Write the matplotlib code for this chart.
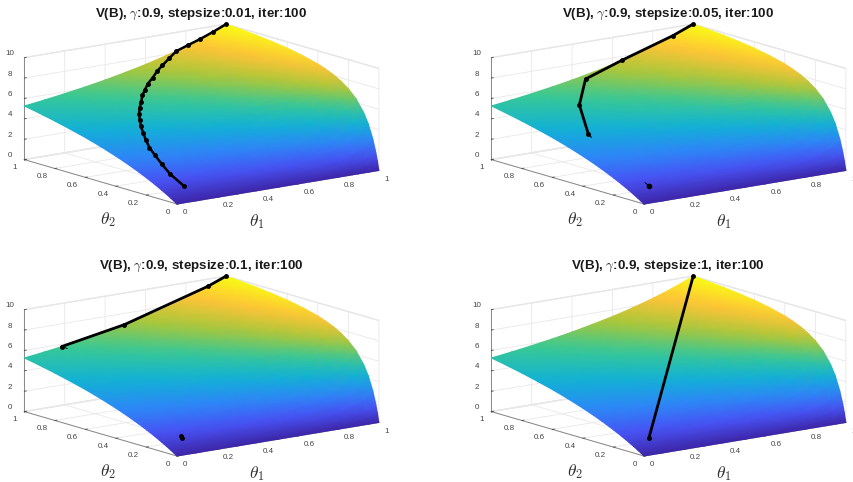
import matplotlib
matplotlib.use("Agg")
import matplotlib.pyplot as plt
import numpy as np
from matplotlib.colors import LinearSegmentedColormap
from mpl_toolkits.mplot3d import proj3d

plt.rcParams["font.family"] = ["Liberation Sans", "DejaVu Sans"]
plt.rcParams["mathtext.fontset"] = "cm"

# surface heights
theta1_grid = [0, 0.1, 0.2, 0.3, 0.4, 0.5, 0.6, 0.7, 0.8, 0.85, 0.9, 0.95, 1]
theta2_grid = [0, 0.01, 0.02, 0.04, 0.07, 0.1, 0.15, 0.2, 0.25, 0.3, 0.35, 0.4, 0.5, 0.6, 0.7, 0.8, 0.9, 0.95, 1]
surface_z = [
    [0, 0, 0, 0, 0, 0, 0, 0, 0, 0, 0, 0, 0],
    [0.099, 0.109, 0.121, 0.135, 0.154, 0.179, 0.213, 0.264, 0.346, 0.41, 0.503, 0.649, 0.917],
    [0.196, 0.216, 0.239, 0.267, 0.304, 0.352, 0.418, 0.515, 0.671, 0.791, 0.962, 1.227, 1.695],
    [0.386, 0.423, 0.467, 0.522, 0.592, 0.683, 0.806, 0.985, 1.266, 1.476, 1.77, 2.21, 2.94],
    [0.659, 0.719, 0.793, 0.883, 0.996, 1.142, 1.338, 1.617, 2.04, 2.35, 2.77, 3.37, 4.29],
    [0.917, 1.0, 1.099, 1.22, 1.37, 1.563, 1.818, 2.17, 2.7, 3.08, 3.57, 4.26, 5.26],
    [1.322, 1.435, 1.571, 1.734, 1.935, 2.19, 2.52, 2.97, 3.61, 4.05, 4.62, 5.36, 6.38],
    [1.695, 1.835, 2.0, 2.2, 2.44, 2.74, 3.13, 3.64, 4.35, 4.82, 5.41, 6.15, 7.14],
    [2.04, 2.2, 2.39, 2.62, 2.89, 3.23, 3.65, 4.2, 4.95, 5.43, 6.02, 6.76, 7.69],
    [2.36, 2.54, 2.75, 3.0, 3.3, 3.66, 4.11, 4.69, 5.45, 5.94, 6.52, 7.23, 8.11],
    [2.66, 2.86, 3.08, 3.35, 3.66, 4.05, 4.52, 5.11, 5.88, 6.36, 6.93, 7.61, 8.43],
    [2.94, 3.15, 3.39, 3.67, 4.0, 4.4, 4.88, 5.48, 6.25, 6.72, 7.27, 7.92, 8.7],
    [3.45, 3.68, 3.94, 4.24, 4.59, 5.0, 5.49, 6.1, 6.85, 7.3, 7.81, 8.4, 9.09],
    [3.9, 4.14, 4.41, 4.72, 5.08, 5.5, 6.0, 6.59, 7.32, 7.74, 8.22, 8.76, 9.38],
    [4.29, 4.55, 4.83, 5.15, 5.51, 5.93, 6.42, 7.0, 7.69, 8.09, 8.54, 9.03, 9.59],
    [4.65, 4.91, 5.19, 5.52, 5.88, 6.3, 6.78, 7.34, 8.0, 8.38, 8.79, 9.25, 9.76],
    [4.97, 5.23, 5.52, 5.84, 6.21, 6.62, 7.09, 7.63, 8.26, 8.61, 9.0, 9.42, 9.89],
    [5.12, 5.38, 5.67, 5.99, 6.35, 6.76, 7.22, 7.76, 8.37, 8.72, 9.09, 9.5, 9.95],
    [5.26, 5.52, 5.81, 6.13, 6.49, 6.9, 7.35, 7.87, 8.47, 8.81, 9.17, 9.57, 10.0],
]

titles = [
    r"V(B), $\gamma$:0.9, stepsize:0.01, iter:100",
    r"V(B), $\gamma$:0.9, stepsize:0.05, iter:100",
    r"V(B), $\gamma$:0.9, stepsize:0.1, iter:100",
    r"V(B), $\gamma$:0.9, stepsize:1, iter:100",
]

# trajectories, each one is (theta1, theta2, V)
path1_t1 = [0.108, 0.109, 0.125, 0.144, 0.163, 0.19, 0.218, 0.245, 0.278, 0.308, 0.343, 0.378,
            0.419, 0.458, 0.499, 0.545, 0.594, 0.639, 0.694, 0.752, 0.81, 0.87, 0.934, 1]
path1_t2 = [0.098, 0.188, 0.265, 0.335, 0.396, 0.455, 0.51, 0.56, 0.612, 0.655, 0.698, 0.735,
            0.78, 0.815, 0.85, 0.88, 0.915, 0.94, 0.97, 0.998, 1, 1, 1, 1]
path1_v = [0.99, 1.75, 2.35, 2.86, 3.27, 3.67, 4.04, 4.36, 4.7, 4.99, 5.29, 5.56,
           5.89, 6.17, 6.46, 6.76, 7.1, 7.4, 7.77, 8.18, 8.55, 8.95, 9.44, 10]

path2_t1 = [0.14, 0.275, 0.444, 0.645, 0.9, 1]
path2_t2 = [0.55, 0.787, 0.97, 1, 1, 1]
path2_v = [4.02, 5.38, 6.57, 7.6, 9.2, 10]
tail2_t1 = [0.14, 0.13]
tail2_t2 = [0.55, 0.515]
tail2_v = [4.02, 3.85]
blob2_t1 = [0.1, 0.1]
blob2_t2 = [0.1, 0.125]
blob2_v = [1.0, 1.22]

path3_t1 = [0.185, 0.496, 0.91, 1]
path3_t2 = [1, 1, 1, 1]
path3_v = [5.77, 6.9, 9.3, 10]
tail3_t1 = [0.185, 0.19]
tail3_t2 = [1, 0.97]
tail3_v = [5.77, 5.7]
blob3_t1 = [0.1, 0.105]
blob3_t2 = [0.1, 0.11]
blob3_v = [1.0, 1.09]

path4_t1 = [0.1, 1]
path4_t2 = [0.1, 1]
path4_v = [1.0, 10]

parula = LinearSegmentedColormap.from_list("parula", [
    (0.2422, 0.1504, 0.6603), (0.2810, 0.3228, 0.9578), (0.1786, 0.5289, 0.9682),
    (0.0689, 0.6948, 0.8394), (0.2161, 0.7843, 0.5923), (0.6720, 0.7793, 0.2227),
    (0.9970, 0.7659, 0.2199), (0.9769, 0.9839, 0.0805)])

W, H = 854, 482
panel_dx = [0, 467, 0, 467]
panel_dy = [0, 0, 252, 252]

fig = plt.figure(figsize=(W / 100, H / 100), dpi=100)
overlay = fig.add_axes([0, 0, 1, 1], zorder=10)
overlay.set_axis_off()
overlay.patch.set_visible(False)


def setup_axes(dx, dy):
    size = 362
    ax = fig.add_axes([0.1, 0.1, size / W, size / H], projection="3d", proj_type="ortho", zorder=1)
    ax.view_init(elev=12.7, azim=-127.1)
    ax.set_box_aspect((1, 1, 0.413))
    ax.set_xlim(0, 1)
    ax.set_ylim(0, 1)
    ax.set_zlim(0, 10)
    ax.patch.set_visible(False)
    ax.set_xticks([0, 0.2, 0.4, 0.6, 0.8, 1])
    ax.set_yticks([0, 0.2, 0.4, 0.6, 0.8, 1])
    ax.set_zticks([0, 2, 4, 6, 8, 10])
    ax.set_xticklabels(["0", "0.2", "0.4", "0.6", "0.8", "1"], ha="left")
    ax.set_yticklabels(["0", "0.2", "0.4", "0.6", "0.8", "1"], ha="right")
    ax.set_zticklabels(["0", "2", "4", "6", "8", "10"], va="bottom")
    ax.tick_params(labelsize=5.8, colors="#444444")
    ax.tick_params(axis="x", pad=-3.2)
    ax.tick_params(axis="y", pad=-3.2)
    ax.tick_params(axis="z", pad=-2.5)
    for axis in [ax.xaxis, ax.yaxis, ax.zaxis]:
        axis.set_pane_color((1, 1, 1, 1))
        axis.pane.set_edgecolor("#e4e4e4")
        axis.line.set_color("#888888")
        axis.line.set_linewidth(0.7)
        axis._axinfo["grid"]["color"] = "#e8e8e8"
        axis._axinfo["grid"]["linewidth"] = 0.6
        axis._axinfo["tick"]["inward_factor"] = 0
        axis._axinfo["tick"]["outward_factor"] = 0.12
        axis._axinfo["tick"]["linewidth"] = {True: 0.6, False: 0.6}

    # move the axes so theta=(0,0), z=0 lands where it is in the reference
    ax.apply_aspect()
    x0, y0, _ = proj3d.proj_transform(0, 0, 0, ax.get_proj())
    px, py = ax.transData.transform((x0, y0))
    pos = ax.get_position()
    target_x = 177 + dx
    target_y = H - (204 + dy)
    ax.set_position([pos.x0 + (target_x - px) / W, pos.y0 + (target_y - py) / H, pos.width, pos.height])
    ax.apply_aspect()
    return ax


def project(ax, t1, t2, v):
    M = ax.get_proj()
    xs, ys, _ = proj3d.proj_transform(np.ravel(t1), np.ravel(t2), np.ravel(v), M)
    return xs, ys


def draw_line(ax, t1, t2, v, lw=1.8, ms=3.2):
    xs, ys = project(ax, t1, t2, v)
    overlay.plot(xs, ys, color="black", lw=lw, marker="o" if ms else None, ms=ms,
                 transform=ax.transData, solid_capstyle="round", clip_on=False)


grid1, grid2 = np.meshgrid(theta1_grid, theta2_grid)
zvals = np.array(surface_z)

panel_lines = [
    [(path1_t1, path1_t2, path1_v, 1.8, 2.5)],
    [(path2_t1, path2_t2, path2_v, 2.0, 2.5), (tail2_t1, tail2_t2, tail2_v, 0.7, 0),
     (blob2_t1, blob2_t2, blob2_v, 0.7, 0), (blob2_t1[:1], blob2_t2[:1], blob2_v[:1], 1.5, 3.0)],
    [(path3_t1, path3_t2, path3_v, 2.0, 2.5), (tail3_t1, tail3_t2, tail3_v, 0.7, 0),
     (blob3_t1, blob3_t2, blob3_v, 2.0, 2.5)],
    [(path4_t1, path4_t2, path4_v, 2.0, 2.5)],
]

for i in range(4):
    dx, dy = panel_dx[i], panel_dy[i]
    ax = setup_axes(dx, dy)
    xs, ys = project(ax, grid1, grid2, zvals)
    overlay.pcolormesh(xs.reshape(zvals.shape), ys.reshape(zvals.shape), zvals, shading="gouraud",
                       cmap=parula, vmin=0, vmax=10, transform=ax.transData, clip_on=False)
    for t1, t2, v, lw, ms in panel_lines[i]:
        draw_line(ax, t1, t2, v, lw, ms)
    fig.text((201 + dx) / W, 1 - (14 + dy) / H, titles[i], ha="center", va="center",
             fontsize=9.6, fontweight="bold", color="#1a1a1a")
    fig.text((257 + dx) / W, 1 - (222 + dy) / H, r"$\theta_1$", ha="center", va="center",
             fontsize=12.5, color="#333333")
    fig.text((108 + dx) / W, 1 - (220 + dy) / H, r"$\theta_2$", ha="center", va="center",
             fontsize=12.5, color="#333333")

overlay.set_xlim(0, 1)
overlay.set_ylim(0, 1)
fig.savefig("out.png", dpi=100)
